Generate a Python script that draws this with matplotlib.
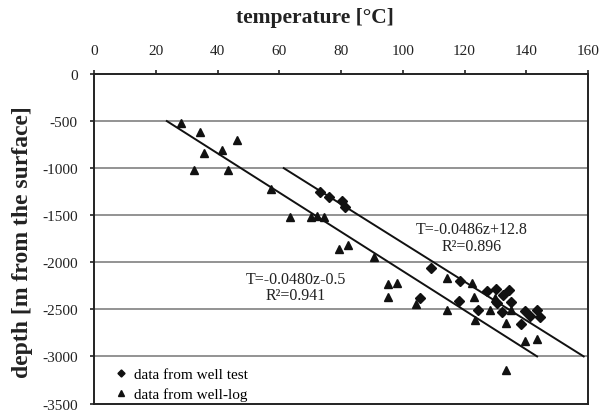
import matplotlib
matplotlib.use("Agg")
import matplotlib.pyplot as plt
import numpy as np

plt.rcParams['font.family'] = ['Liberation Serif', 'DejaVu Serif']
plt.rcParams['axes.unicode_minus'] = False

# well-test data (temperature °C, depth m)
test_T = [73.2, 76.2, 80.2, 81.4, 109.2, 105.6, 118.5, 127.2, 130.2, 134.4, 132.4,
          118.3, 130.6, 135.0, 124.5, 132.2, 139.6, 143.4, 141.2, 144.5, 138.2]
test_z = [-1258, -1306, -1348, -1416, -2057, -2377, -2203, -2310, -2288, -2299, -2345,
          -2409, -2431, -2417, -2502, -2530, -2519, -2502, -2566, -2583, -2655]

# well-log data
log_T = [28.1, 34.3, 46.2, 35.4, 41.4, 32.3, 43.3, 57.3, 63.3, 70.3, 72.3, 74.4,
         79.3, 82.3, 90.5, 95.3, 98.2, 95.3, 104.3, 114.4, 122.3, 123.2, 129.9,
         114.4, 128.3, 135.1, 123.4, 133.3, 139.5, 143.4, 133.4]
log_z = [-518, -618, -700, -839, -803, -1024, -1024, -1223, -1515, -1519, -1509, -1515,
         -1861, -1818, -1947, -2235, -2217, -2366, -2444, -2169, -2220, -2370, -2380,
         -2502, -2502, -2511, -2609, -2650, -2833, -2815, -3143]

# fits T = a*z + b over depth range
fit_test = dict(a=-0.0486, b=12.8, z=[-1000, -3000], label="T=-0.0486z+12.8\nR²=0.896")
fit_log = dict(a=-0.0480, b=-0.5, z=[-500, -3000], label="T=-0.0480z-0.5\nR²=0.941")

x_ticks = [0, 20, 40, 60, 80, 100, 120, 140, 160]
y_ticks = [0, -500, -1000, -1500, -2000, -2500, -3000, -3500]

fig = plt.figure(figsize=(6.03, 4.14), dpi=100)
ax = fig.add_axes([94.3/603, 1-404.5/414, (588-94.3)/603, (404.5-75)/414])

ax.set_xlim(0, 160)
ax.set_ylim(-3500, 0)
ax.set_xticks(x_ticks)
ax.set_yticks(y_ticks)
ax.xaxis.tick_top()
ax.tick_params(axis='both', direction='out', length=3, width=1.2, labelsize=11, colors='#222222')
ax.tick_params(axis='x', pad=9)
ax.tick_params(axis='y', pad=9)
for s in ax.spines.values():
    s.set_linewidth(1.4)
    s.set_color('#222222')

for y in y_ticks[1:-1]:
    ax.axhline(y, color='#8a8a8a', lw=1.3, zorder=1)

for f in (fit_test, fit_log):
    zz = np.array(f['z'], dtype=float)
    ax.plot(f['a']*zz + f['b'], zz, color='#111111', lw=1.4, zorder=2)

ax.plot(test_T, test_z, 'D', color='#111111', markersize=4.8, ls='none', zorder=3,
        label='data from well test')
ax.plot(log_T, log_z, '^', color='#111111', markersize=6.0, ls='none', zorder=3,
        label='data from well-log')

ax.text(122.4, -1735, fit_test['label'], ha='center', va='center', fontsize=11.5,
        linespacing=1.05, color='#222222')
ax.text(65.4, -2262, fit_log['label'], ha='center', va='center', fontsize=11.5,
        linespacing=1.05, color='#222222')

leg = ax.legend(loc='lower left', bbox_to_anchor=(0.01, -0.035), frameon=False,
                fontsize=11, handlelength=1.0, handletextpad=0.35, labelspacing=0.4,
                markerscale=0.75)

fig.text(315/603, 1-17.5/414, 'temperature [°C]', ha='center', va='center',
         fontsize=15.5, fontweight='bold', color='#222222')
fig.text(22.4/603, 1-242/414, 'depth [m from the surface]', ha='center', va='center',
         rotation=90, fontsize=17, fontweight='bold', color='#222222')

fig.savefig('out.png', dpi=100)
